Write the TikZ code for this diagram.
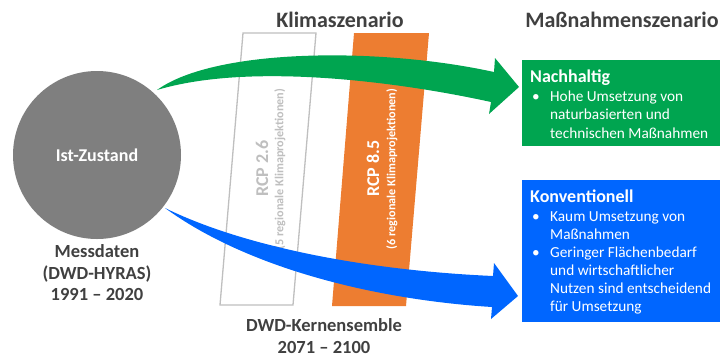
\documentclass[tikz,border=0pt]{standalone}
\usepackage{fontspec}
\usepackage{graphicx}
\setmainfont{Carlito}
\definecolor{txtgray}{HTML}{404040}
\definecolor{circgray}{HTML}{7F7F7F}
\definecolor{lightgray2}{HTML}{BFBFBF}
\definecolor{rcporange}{HTML}{ED7D31}
\definecolor{nachgreen}{HTML}{00A550}
\definecolor{konvblue}{HTML}{0066FF}
\begin{document}
\begin{tikzpicture}[x=1pt,y=-1pt,
  titletext/.style={font=\bfseries\fontsize{22}{26}\selectfont, text=txtgray, anchor=base, inner sep=0},
  labeltext/.style={font=\bfseries\fontsize{18.5}{22}\selectfont, text=txtgray, anchor=base, inner sep=0},
  boxhead/.style={font=\bfseries\fontsize{18}{22}\selectfont, text=white, anchor=base west, inner sep=0},
  boxtext/.style={font=\fontsize{15.3}{18.3}\selectfont, text=white, anchor=base west, inner sep=0},
  rcpmain/.style={font=\bfseries\fontsize{18}{22}\selectfont, inner sep=0},
  rcpsub/.style={font=\bfseries\fontsize{12.2}{14}\selectfont, inner sep=0}]
\useasboundingbox (0,0) rectangle (723,357);

% titles
\node[titletext] (tklima) at (340,27) {Klimaszenario};
\node[titletext] (tmass) at (622,27) {Maßnahmenszenario};

% scenario bars
\draw[lightgray2, line width=1.3pt, fill=white] (243,33) -- (316,33) -- (293,305) -- (220,305) -- cycle;
\fill[rcporange] (354,33) -- (429,33) -- (406,306) -- (332,306) -- cycle;
\node[rcpmain, text=lightgray2] (rcp26) at (262,168.5) {\rotatebox{90}{RCP 2.6}};
\node[rcpsub, text=lightgray2] (rcp26s) at (280,169) {\rotatebox{90}{(5 regionale Klimaprojektionen)}};
\node[rcpmain, text=white] (rcp85) at (373,168.5) {\rotatebox{90}{RCP 8.5}};
\node[rcpsub, text=white] (rcp85s) at (392,169) {\rotatebox{90}{(6 regionale Klimaprojektionen)}};

% Ist-Zustand
\node[circle, fill=circgray, minimum size=168pt, inner sep=0] (ist) at (97,155) {};
\node[font=\bfseries\fontsize{18}{22}\selectfont, text=white, inner sep=0] (istt) at (97,155) {Ist-Zustand};
\node[labeltext] (mess1) at (97,257) {Messdaten};
\node[labeltext] (mess2) at (97,279) {(DWD-HYRAS)};
\node[labeltext] (mess3) at (97,300.5) {1991 – 2020};

\node[labeltext] (dwd1) at (324,331.5) {DWD-Kernensemble};
\node[labeltext] (dwd2) at (324,353) {2071 – 2100};

% boxes
\fill[nachgreen] (522,60) rectangle (720,146);
\node[boxhead] (nach) at (530,82) {Nachhaltig};
\node[boxtext] (nb1) at (532,101.5) {•};
\node[boxtext] (n1) at (550,101.5) {Hohe Umsetzung von};
\node[boxtext] (n2) at (550,119.8) {naturbasierten und};
\node[boxtext] (n3) at (550,138.1) {technischen Maßnahmen};

\fill[konvblue] (522,180) rectangle (720,322);
\node[boxhead] (konv) at (530,202) {Konventionell};
\node[boxtext] (kb1) at (532,221) {•};
\node[boxtext] (k1) at (550,221) {Kaum Umsetzung von};
\node[boxtext] (k2) at (550,239) {Maßnahmen};
\node[boxtext] (kb2) at (532,257) {•};
\node[boxtext] (k3) at (550,257) {Geringer Flächenbedarf};
\node[boxtext] (k4) at (550,275) {und wirtschaftlicher};
\node[boxtext] (k5) at (550,293) {Nutzen sind entscheidend};
\node[boxtext] (k6) at (550,311) {für Umsetzung};

% curved arrows
\fill[nachgreen] (157,90) .. controls (215,48) and (380,47) .. (494,72)
  -- (495,58) -- (519,87) -- (489,114) -- (491,102)
  .. controls (400,82) and (250,62) .. (157,90) -- cycle;
\fill[konvblue] (165,208) .. controls (240,245) and (360,270) .. (493,276)
  -- (494,263) -- (518,296) -- (491,319) -- (492,307)
  .. controls (380,300) and (250,270) .. (165,208) -- cycle;
\end{tikzpicture}
\end{document}
